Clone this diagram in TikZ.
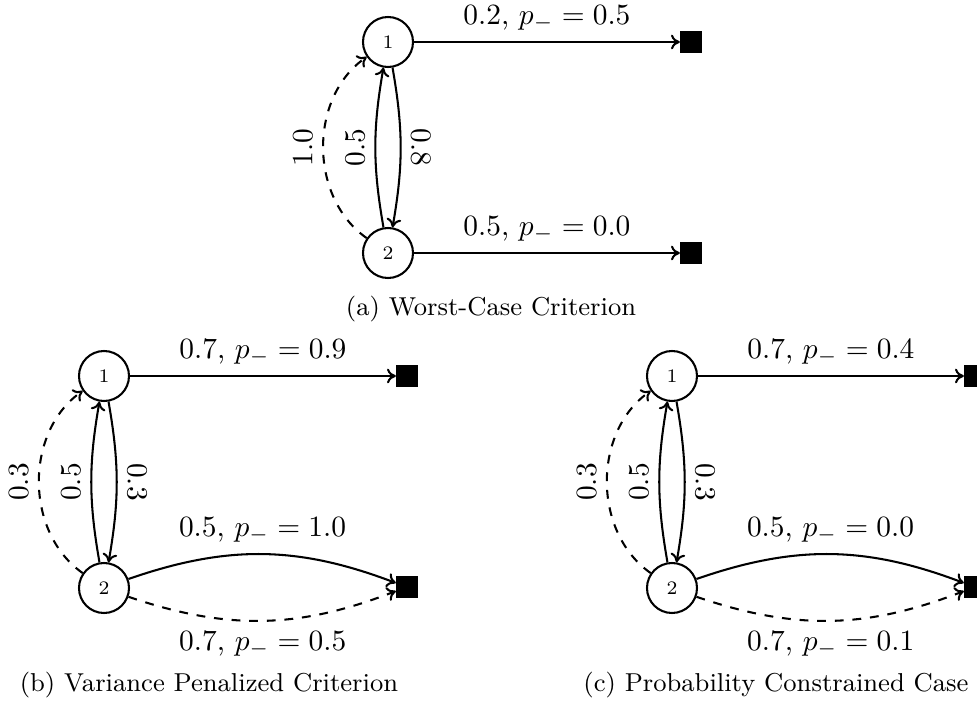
\documentclass[tikz,border=0pt]{standalone}
\usetikzlibrary{arrows.meta}
\begin{document}
\begin{tikzpicture}[x=0.34pt,y=-0.34pt,
  st/.style={circle,draw,line width=0.7pt,minimum size=17pt,inner sep=0pt,font=\fontsize{6.5}{7}\selectfont},
  term/.style={fill=black,minimum size=7.2pt,inner sep=0pt},
  ed/.style={line width=0.7pt,-{To[length=3pt,width=5pt]}},
  captxt/.style={font=\fontsize{8.8}{11}\selectfont}
]
\useasboundingbox (0,0) rectangle (977,706);
% (a)
\node[st] (a1) at (388,42) {1};
\node[st] (a2) at (388,253) {2};
\node[term] (at1) at (691,42) {};
\node[term] (at2) at (691,253) {};
\draw[ed] (a1) -- node[above]{$0.2$, $p_-=0.5$} (at1);
\draw[ed] (a2) -- node[above]{$0.5$, $p_-=0.0$} (at2);
\draw[ed] (a2) to[bend left=10] node[sloped,above]{$0.5$} (a1);
\draw[ed] (a1) to[bend left=10] node[sloped,above]{$0.8$} (a2);
\draw[ed,dashed] (a2) to[bend left=55] node[sloped,above]{$1.0$} (a1);
\node[captxt] (capa) at (491,309) {(a) Worst-Case Criterion};
% (b)
\node[st] (b1) at (104,376) {1};
\node[st] (b2) at (104,588) {2};
\node[term] (bt1) at (407,376) {};
\node[term] (bt2) at (407,587) {};
\draw[ed] (b1) -- node[above]{$0.7$, $p_-=0.9$} (bt1);
\draw[ed] (b2) to[bend left=20] node[above]{$0.5$, $p_-=1.0$} (bt2);
\draw[ed,dashed] (b2) to[bend right=20] node[below]{$0.7$, $p_-=0.5$} (bt2);
\draw[ed] (b2) to[bend left=10] node[sloped,above]{$0.5$} (b1);
\draw[ed] (b1) to[bend left=10] node[sloped,above]{$0.3$} (b2);
\draw[ed,dashed] (b2) to[bend left=55] node[sloped,above]{$0.3$} (b1);
\node[captxt] (capb) at (209,685) {(b) Variance Penalized Criterion};
% (c)
\node[st] (c1) at (672,376) {1};
\node[st] (c2) at (672,588) {2};
\node[term] (ct1) at (975,376) {};
\node[term] (ct2) at (975,587) {};
\draw[ed] (c1) -- node[above]{$0.7$, $p_-=0.4$} (ct1);
\draw[ed] (c2) to[bend left=20] node[above]{$0.5$, $p_-=0.0$} (ct2);
\draw[ed,dashed] (c2) to[bend right=20] node[below]{$0.7$, $p_-=0.1$} (ct2);
\draw[ed] (c2) to[bend left=10] node[sloped,above]{$0.5$} (c1);
\draw[ed] (c1) to[bend left=10] node[sloped,above]{$0.3$} (c2);
\draw[ed,dashed] (c2) to[bend left=55] node[sloped,above]{$0.3$} (c1);
\node[captxt] (capc) at (776,685) {(c) Probability Constrained Case};
\end{tikzpicture}
\end{document}
